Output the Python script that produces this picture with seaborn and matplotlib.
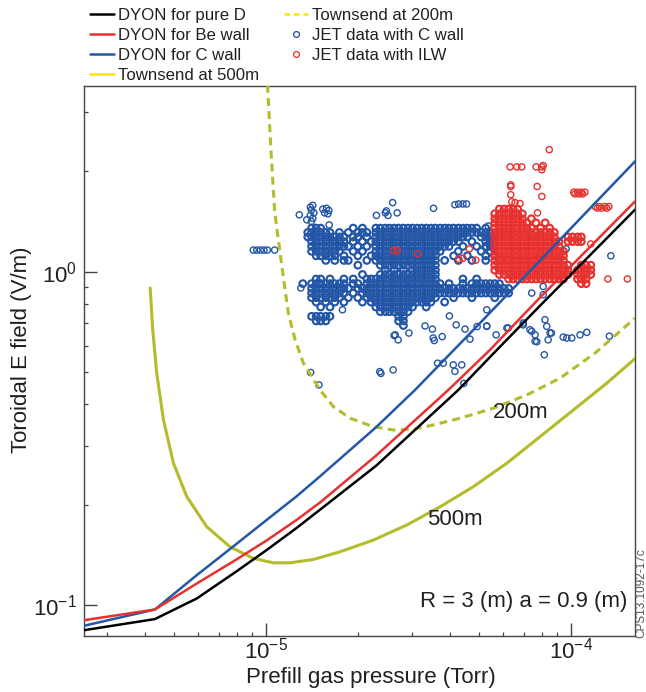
import numpy as np
import pandas as pd
import matplotlib
matplotlib.use("Agg")
import matplotlib.pyplot as plt
from matplotlib.lines import Line2D
from matplotlib.ticker import NullFormatter
import seaborn as sns

# ---------------- data (pressure in Torr, field in V/m) ----------------
dyon_pure_d_p = [2.53e-6, 4.32e-6, 5.93e-6, 7.99e-6, 1.003e-5, 1.257e-5, 1.502e-5, 2.30e-5, 4.27e-5, 5.71e-5, 7.91e-5, 1.62e-4]
dyon_pure_d_E = [0.0840, 0.0907, 0.1046, 0.126, 0.146, 0.170, 0.193, 0.262, 0.4416, 0.582, 0.790, 1.533]

dyon_be_p = [2.53e-6, 4.32e-6, 5.93e-6, 7.80e-6, 1.003e-5, 1.257e-5, 1.502e-5, 2.30e-5, 3.96e-5, 5.42e-5, 7.91e-5, 1.62e-4]
dyon_be_E = [0.0900, 0.0969, 0.116, 0.135, 0.156, 0.1797, 0.2028, 0.281, 0.4416, 0.582, 0.836, 1.623]

dyon_c_p = [2.53e-6, 4.32e-6, 5.93e-6, 7.80e-6, 1.003e-5, 1.257e-5, 1.502e-5, 2.30e-5, 3.08e-5, 5.03e-5, 6.97e-5, 1.62e-4]
dyon_c_E = [0.0866, 0.0969, 0.1229, 0.1497, 0.1797, 0.2115, 0.243, 0.342, 0.4416, 0.701, 0.9565, 2.14]

townsend500_p = [4.17e-6, 4.25e-6, 4.38e-6, 4.61e-6, 4.97e-6, 5.50e-6, 6.39e-6, 7.62e-6, 9.09e-6, 1.056e-5, 1.199e-5,
                 1.429e-5, 1.748e-5, 2.248e-5, 2.892e-5, 3.72e-5, 4.78e-5, 6.15e-5, 7.91e-5, 1.018e-4, 1.309e-4, 1.62e-4]
townsend500_E = [0.892, 0.669, 0.496, 0.359, 0.266, 0.2112, 0.1716, 0.1494, 0.1379, 0.1338, 0.1338,
                 0.1369, 0.1444, 0.1565, 0.1737, 0.197, 0.2263, 0.266, 0.3197, 0.3846, 0.4626, 0.548]

townsend200_p = [1.011e-5, 1.038e-5, 1.067e-5, 1.146e-5, 1.183e-5, 1.245e-5, 1.326e-5, 1.503e-5, 1.662e-5, 1.885e-5,
                 2.248e-5, 2.615e-5, 3.04e-5, 3.535e-5, 4.325e-5, 5.56e-5, 7.16e-5, 9.20e-5, 1.20e-4, 1.62e-4]
townsend200_E = [3.63, 2.298, 1.51, 0.924, 0.7505, 0.624, 0.531, 0.4416, 0.3935, 0.3632,
                 0.3425, 0.3348, 0.3365, 0.3467, 0.3632, 0.389, 0.4266, 0.4788, 0.570, 0.725]

# JET data with C wall: streaks of shots (E level, pressures in 1e-5 Torr)
c_wall_levels = [1.35, 1.31, 1.27, 1.23, 1.19, 1.15, 1.115, 1.08, 1.045, 1.01, 0.98, 0.95,
                 0.92, 0.89, 0.862, 0.835, 0.81, 0.783, 0.758, 0.734, 0.711, 0.689]
c_wall_rows = [
    [1.41, 1.46, 1.51, 1.93, 2.07, 2.29, 2.37, 2.46, 2.54, 2.63, 2.72, 2.82, 2.92, 3.02, 3.13, 3.24, 3.35, 3.47, 3.59, 3.72, 3.85, 3.98, 4.12, 4.27, 4.42, 4.57, 4.73, 4.90, 5.25],
    [1.37, 1.41, 1.46, 1.51, 1.57, 1.62, 1.74, 1.86, 2.00, 2.07, 2.14, 2.29, 2.37, 2.46, 2.54, 2.63, 2.72, 2.82, 2.92, 3.02, 3.13, 3.24, 3.35, 3.47, 3.59, 3.72, 3.85, 3.98, 4.12, 4.27, 4.42, 4.57, 4.73, 4.90, 5.07, 5.25, 5.43],
    [1.37, 1.41, 1.46, 1.51, 1.57, 1.62, 1.68, 1.74, 1.80, 1.93, 2.00, 2.14, 2.29, 2.37, 2.46, 2.54, 2.63, 2.72, 2.82, 2.92, 3.02, 3.13, 3.24, 3.35, 3.47, 3.59, 3.72, 3.85, 3.98, 4.12, 4.27, 4.42, 4.57, 5.07, 5.25, 5.43],
    [1.41, 1.46, 1.51, 1.57, 1.62, 1.68, 1.74, 1.80, 1.93, 2.07, 2.21, 2.29, 2.37, 2.46, 2.54, 2.63, 2.72, 2.82, 2.92, 3.02, 3.13, 3.24, 3.35, 3.47, 3.59, 3.72, 3.85, 3.98, 4.12, 4.27, 4.73, 5.25, 5.43, 5.62],
    [1.41, 1.46, 1.51, 1.57, 1.62, 1.68, 1.74, 1.80, 1.86, 2.00, 2.14, 2.29, 2.37, 2.46, 2.54, 2.63, 2.72, 2.82, 2.92, 3.02, 3.13, 3.24, 3.35, 3.47, 3.59, 3.72, 3.85, 3.98, 4.42, 4.90, 5.25, 5.43],
    [1.41, 1.46, 1.51, 1.57, 1.62, 1.68, 1.74, 1.93, 2.07, 2.29, 2.37, 2.46, 2.54, 2.63, 2.72, 2.82, 2.92, 3.02, 3.13, 3.24, 3.35, 3.47, 3.59, 3.72, 4.27, 5.07, 5.43],
    [1.46, 1.51, 1.57, 1.62, 1.68, 1.80, 2.00, 2.21, 2.29, 2.37, 2.46, 2.54, 2.63, 2.72, 2.82, 2.92, 3.02, 3.13, 3.24, 3.35, 3.47, 3.59, 4.12, 4.57, 5.25, 5.62],
    [1.57, 1.68, 1.80, 1.86, 2.14, 2.29, 2.37, 2.46, 2.54, 2.63, 2.72, 2.82, 2.92, 3.02, 3.13, 3.24, 3.35, 3.47, 3.59, 3.85, 4.27, 4.73, 5.25, 5.82, 6.24],
    [2.00, 2.37, 2.46, 2.54, 2.63, 2.72, 2.82, 2.92, 3.02, 3.13, 3.24, 3.35, 3.47, 3.59],
    [2.46, 2.63, 2.82, 3.02, 3.13, 3.24, 3.35, 3.47, 3.59],
    [2.07, 2.37, 2.46, 2.54, 2.63, 2.72, 2.82, 2.92, 3.02, 3.13, 3.24, 3.35, 3.47, 3.59],
    [1.46, 1.51, 1.62, 1.80, 1.93, 2.14, 2.21, 2.29, 2.37, 2.46, 2.54, 2.63, 2.72, 2.82, 2.92, 3.02, 3.13, 3.24, 3.35, 3.47, 3.59, 4.42, 4.90],
    [1.32, 1.41, 1.46, 1.51, 1.57, 1.62, 1.68, 1.74, 1.80, 1.93, 2.00, 2.14, 2.21, 2.29, 2.37, 2.46, 2.54, 2.63, 2.72, 2.82, 2.92, 3.02, 3.13, 3.24, 3.35, 3.47, 3.59, 3.72, 3.98, 4.42, 4.73, 4.90, 5.07, 5.25, 5.43, 5.62, 5.82],
    [1.41, 1.46, 1.51, 1.57, 1.62, 1.68, 1.74, 1.80, 1.86, 2.00, 2.07, 2.14, 2.21, 2.29, 2.37, 2.46, 2.54, 2.63, 2.72, 2.82, 2.92, 3.02, 3.13, 3.24, 3.35, 3.47, 3.59, 3.72, 3.85, 3.98, 4.12, 4.27, 4.42, 4.57, 4.73, 4.90, 5.07, 5.25, 5.43, 5.62, 5.82, 6.03, 6.24],
    [1.41, 1.46, 1.51, 1.57, 1.62, 1.68, 1.74, 1.80, 1.93, 2.07, 2.14, 2.21, 2.29, 2.37, 2.46, 2.54, 2.63, 2.72, 2.82, 2.92, 3.02, 3.13, 3.24, 3.35, 3.47, 3.59, 3.72, 3.85, 3.98, 4.12, 4.27, 4.42, 4.57, 4.73, 4.90, 5.07, 5.25, 5.43, 5.62, 5.82, 6.03, 6.24],
    [1.41, 1.46, 1.51, 1.57, 1.62, 1.68, 1.74, 1.86, 2.00, 2.14, 2.21, 2.29, 2.37, 2.46, 2.54, 2.63, 2.72, 2.82, 2.92, 3.02, 3.13, 3.24, 3.35, 3.47, 3.59, 4.12, 4.73, 5.62],
    [1.46, 1.57, 1.68, 1.80, 2.07, 2.21, 2.29, 2.37, 2.46, 2.54, 2.63, 2.72, 2.82, 2.92, 3.02, 3.13, 3.24, 3.35, 3.47, 3.85],
    [1.51, 1.62, 2.29, 2.37, 2.46, 2.54, 2.63, 2.72, 2.82, 2.92, 3.02, 3.35],
    [2.37, 2.46, 2.54, 2.63, 2.72, 2.82, 2.92],
    [1.41, 1.46, 1.51, 1.57, 1.62, 2.72, 2.82],
    [1.46, 1.51, 1.57, 2.72, 2.82],
    [2.82],
]
c_wall_single_p = [0.908, 0.932, 0.958, 0.984, 1.01, 1.067,
                   1.397, 1.423, 1.408, 1.435, 1.397, 1.423, 1.408,
                   1.535, 1.577, 1.607, 1.556, 1.594, 1.285, 1.36, 1.61,
                   2.30, 2.46, 2.51, 2.48, 2.60, 2.69,
                   3.54, 4.16, 4.28, 4.42, 4.54,
                   5.35, 5.45, 5.60, 5.42, 5.28, 5.65,
                   1.30, 1.78, 1.40, 1.49, 2.36, 2.61, 2.38,
                   2.63, 2.65, 2.71, 2.94,
                   3.32, 3.51, 3.99, 4.20, 4.49, 4.92, 5.29, 6.16, 6.97,
                   3.53, 3.78, 5.68, 7.33, 7.62, 7.72,
                   3.65, 3.81, 4.11, 4.38, 4.16, 4.45,
                   9.63, 13.5, 7.43, 8.10, 8.10,
                   6.97, 8.21, 8.32, 8.53, 7.43, 7.62, 8.41, 9.42, 10.05, 10.70, 11.26, 6.22, 5.29, 13.35, 8.17,
                   3.56, 4.66, 5.29, 9.68, 8.62]
c_wall_single_E = [1.16, 1.16, 1.16, 1.16, 1.16, 1.16,
                   1.56, 1.58, 1.53, 1.50, 1.474, 1.445, 1.413,
                   1.54, 1.548, 1.525, 1.50, 1.49, 1.48, 1.43, 1.38,
                   1.474, 1.50, 1.474, 1.52, 1.61, 1.50,
                   1.548, 1.587, 1.595, 1.595, 1.595,
                   1.37, 1.30, 1.27, 1.22, 1.18, 1.195,
                   0.893, 0.768, 0.498, 0.457, 0.501, 0.507, 0.495,
                   0.643, 0.646, 0.624, 0.654,
                   0.687, 0.672, 0.736, 0.692, 0.672, 0.684, 0.687, 0.677, 0.692,
                   0.632, 0.638, 0.646, 0.669, 0.646, 0.616,
                   0.531, 0.531, 0.525, 0.525, 0.502, 0.462,
                   1.17, 1.115, 0.862, 0.902, 0.852,
                   0.701, 0.717, 0.685, 0.654, 0.662, 0.618, 0.624, 0.636, 0.632, 0.646, 0.657, 0.677, 0.685, 0.640, 0.563,
                   0.621, 0.627, 0.768, 0.632, 0.654]

# JET data with ILW
ilw_levels = [1.54, 1.49, 1.44, 1.40, 1.35, 1.31, 1.27, 1.23, 1.19, 1.15, 1.115, 1.08,
              1.045, 1.01, 0.98, 0.95, 0.92]
ilw_rows = [
    [5.82, 6.03, 6.24, 6.46, 6.68],
    [5.62, 5.82, 6.03, 6.24, 6.46, 6.68, 6.92],
    [5.62, 5.82, 6.03, 6.24, 6.46, 6.68, 6.92, 7.41],
    [5.62, 5.82, 6.03, 6.24, 6.46, 6.68, 6.92, 7.16, 7.67, 8.22],
    [5.62, 5.82, 6.03, 6.24, 6.46, 6.68, 6.92, 7.16, 7.41, 7.94, 8.51],
    [5.62, 5.82, 6.03, 6.24, 6.46, 6.68, 6.92, 7.16, 7.41, 7.67, 7.94, 8.22, 8.51, 8.81],
    [5.62, 5.82, 6.03, 6.24, 6.46, 6.68, 6.92, 7.16, 7.41, 7.67, 7.94, 8.22, 8.51, 8.81, 9.77, 10.1, 10.5, 10.8],
    [5.62, 5.82, 6.03, 6.24, 6.46, 6.68, 6.92, 7.16, 7.41, 7.67, 7.94, 8.22, 8.51, 8.81, 9.12, 9.77, 10.1, 10.5, 10.8],
    [5.62, 5.82, 6.03, 6.24, 6.46, 6.68, 6.92, 7.16, 7.41, 7.67, 7.94, 8.22, 8.51, 8.81, 9.12],
    [5.62, 5.82, 6.03, 6.24, 6.46, 6.68, 6.92, 7.16, 7.41, 7.67, 7.94, 8.22, 8.51, 8.81, 9.12, 9.44],
    [5.62, 5.82, 6.03, 6.24, 6.46, 6.68, 6.92, 7.16, 7.41, 7.67, 7.94, 8.22, 8.51, 8.81, 9.12, 9.44],
    [5.62, 5.82, 6.03, 6.24, 6.46, 6.68, 6.92, 7.16, 7.41, 7.67, 7.94, 8.22, 8.51, 8.81, 9.12, 9.44],
    [5.62, 5.82, 6.03, 6.24, 6.46, 6.68, 6.92, 7.16, 7.41, 7.67, 7.94, 8.22, 8.51, 8.81, 9.12, 9.44, 9.77, 10.8, 11.2, 11.6],
    [5.62, 5.82, 6.03, 6.24, 6.46, 6.68, 6.92, 7.16, 7.41, 7.67, 7.94, 8.22, 8.51, 8.81, 9.12, 9.44, 9.77, 10.5, 10.8, 11.2, 11.6],
    [5.82, 6.03, 6.24, 6.46, 6.68, 6.92, 7.16, 7.41, 7.67, 7.94, 8.22, 8.51, 8.81, 9.12, 9.44, 9.77, 10.5, 10.8, 11.2, 11.6],
    [6.24, 6.46, 6.68, 6.92, 7.16, 7.41, 7.67, 7.94, 8.22, 8.51, 8.81, 9.12, 9.44, 10.5, 10.8, 11.2],
    [10.8, 11.2],
]
ilw_single_p = [6.31, 6.64, 6.89, 7.68, 8.02, 8.10, 8.02, 8.48, 6.34, 6.34, 7.74, 8.02, 6.34, 7.76,
                6.39, 6.55, 6.80, 13.2, 15.3, 11.6,
                10.2, 10.5, 10.8, 11.1, 10.3, 10.6, 10.9,
                12.0, 12.4, 12.9, 13.3, 12.2, 12.6, 13.1,
                2.62, 2.69, 3.14, 4.28, 4.42, 4.64, 4.87]
ilw_single_E = [2.06, 2.06, 2.06, 2.06, 2.06, 2.08, 2.02, 2.32, 1.82, 1.80, 1.80, 1.68, 1.70, 1.50,
                1.62, 1.61, 1.60, 0.950, 0.950, 1.21,
                1.73, 1.73, 1.73, 1.73, 1.71, 1.71, 1.71,
                1.567, 1.567, 1.567, 1.567, 1.55, 1.55, 1.55,
                1.157, 1.157, 1.13, 1.09, 1.096, 1.17, 1.082]

legend_labels = ["DYON for pure D", "DYON for Be wall", "DYON for C wall", "Townsend at 500m",
                 "Townsend at 200m", "JET data with C wall", "JET data with ILW"]


def rows_frame(levels, rows):
    p, E = [], []
    for e, ps in zip(levels, rows):
        p += ps
        E += [e] * len(ps)
    return pd.DataFrame({"p": np.array(p) * 1e-5, "E": E})


def single_frame(sp, sE):
    return pd.DataFrame({"p": np.array(sp) * 1e-5, "E": sE})


df_c_dense = rows_frame(c_wall_levels, c_wall_rows)
df_c_single = single_frame(c_wall_single_p, c_wall_single_E)
df_ilw_dense = rows_frame(ilw_levels, ilw_rows)
df_ilw_single = single_frame(ilw_single_p, ilw_single_E)

# ---------------- style ----------------
sns.set_style("ticks")
plt.rcParams["font.family"] = ["Liberation Sans", "DejaVu Sans"]
plt.rcParams["mathtext.default"] = "regular"
plt.rcParams["axes.unicode_minus"] = True

TXT = "#231f20"
C_BLACK = "#000000"
C_RED = "#e8302e"
C_BLUE = "#2357a8"
C_OLIVE = "#b3bd2b"
C_YELLOW = "#ffe400"
C_PTS_BLUE = "#2356a6"
C_PTS_RED = "#e8302e"

fig = plt.figure(figsize=(6.46, 6.92), dpi=100)
W, H = 646, 692
L, R, T, B = 84, 635, 85.7, 636
ax = fig.add_axes([L / W, 1 - B / H, (R - L) / W, (B - T) / H])
ax.set_xscale("log")
ax.set_yscale("log")


def pts(df, col, s, lw, z):
    sns.scatterplot(data=df, x="p", y="E", ax=ax, marker="o", s=s, color=col,
                    facecolor="none", edgecolor=col, linewidth=lw, zorder=z, legend=False)


pts(df_c_dense, C_PTS_BLUE, 23, 1.55, 2)
pts(df_c_single, C_PTS_BLUE, 20, 1.0, 2)
pts(df_ilw_dense, C_PTS_RED, 23, 1.55, 3)
pts(df_ilw_single, C_PTS_RED, 20, 1.0, 3)

sns.lineplot(x=townsend500_p, y=townsend500_E, ax=ax, color=C_OLIVE, lw=2.2,
             estimator=None, sort=False, zorder=4)
sns.lineplot(x=townsend200_p, y=townsend200_E, ax=ax, color=C_OLIVE, lw=2.2,
             linestyle=(0, (2.6, 1.7)), estimator=None, sort=False, zorder=4)
sns.lineplot(x=dyon_c_p, y=dyon_c_E, ax=ax, color=C_BLUE, lw=1.8, estimator=None, sort=False, zorder=5)
sns.lineplot(x=dyon_be_p, y=dyon_be_E, ax=ax, color=C_RED, lw=1.8, estimator=None, sort=False, zorder=5)
sns.lineplot(x=dyon_pure_d_p, y=dyon_pure_d_E, ax=ax, color=C_BLACK, lw=1.8, estimator=None, sort=False, zorder=6)

ax.set_xlim(2.53e-6, 1.62e-4)
ax.set_ylim(0.0807, 3.61)

for sp in ax.spines.values():
    sp.set_color("#444444")
    sp.set_linewidth(1.0)

ax.xaxis.set_minor_formatter(NullFormatter())
ax.yaxis.set_minor_formatter(NullFormatter())
ax.tick_params(which="both", direction="in", top=False, right=False, colors="#444444",
               labelcolor=TXT, labelsize=16)
ax.tick_params(which="major", length=9.4, width=1.0)
ax.tick_params(which="minor", length=3.2, width=0.9)
ax.tick_params(axis="x", which="major", pad=1.5)
ax.tick_params(axis="y", which="major", pad=5)

ax.set_xlabel("Prefill gas pressure (Torr)", fontsize=16, color=TXT)
ax.set_ylabel("Toroidal E field (V/m)", fontsize=16, color=TXT)
ax.xaxis.set_label_coords(0.521, -0.056)
ax.xaxis.label.set_va("top")
ax.yaxis.set_label_coords(-0.094, 0.52)

ax.text(6.81e-5, 0.379, "200m", fontsize=16, color=TXT, ha="center", va="center", zorder=7)
ax.text(4.17e-5, 0.180, "500m", fontsize=16, color=TXT, ha="center", va="center", zorder=7)
ax.text(0.987, 0.063, "R = 3 (m) a = 0.9 (m)", transform=ax.transAxes, fontsize=16,
        color=TXT, ha="right", va="center", zorder=7)

fig.text(641 / W, 1 - 638 / H, "CPS13.1092-17c", rotation=90, fontsize=8.5, color="#555555",
         ha="center", va="bottom")

handles = [
    Line2D([], [], color=C_BLACK, lw=1.8),
    Line2D([], [], color=C_RED, lw=1.8),
    Line2D([], [], color=C_BLUE, lw=1.8),
    Line2D([], [], color=C_YELLOW, lw=1.8),
    Line2D([], [], color=C_YELLOW, lw=1.8, linestyle=(0, (2.2, 1.6))),
    Line2D([], [], color=C_PTS_BLUE, lw=0, marker="o", markersize=4.2, markerfacecolor="none",
           markeredgewidth=0.95),
    Line2D([], [], color=C_PTS_RED, lw=0, marker="o", markersize=4.2, markerfacecolor="none",
           markeredgewidth=0.95),
]
leg = fig.legend(handles, legend_labels, loc="upper left", bbox_to_anchor=(90 / W, 1 - 8 / H),
                 ncol=2, frameon=False, fontsize=12.1, handlelength=1.45, handletextpad=0.2,
                 columnspacing=1.5, labelspacing=0.29, borderpad=0, borderaxespad=0)
for t in leg.get_texts():
    t.set_color(TXT)

fig.savefig("out.png", dpi=100)
